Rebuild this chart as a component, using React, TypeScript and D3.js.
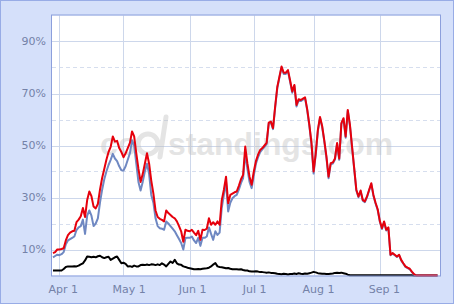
import React from "react";
import * as d3 from "d3";

const W = 454;
const H = 304;

// x = day index of the season (All-Star break days omitted)
const tickIndex = [3, 33, 64, 94, 122, 153];
const tickLabels = ["Apr 1", "May 1", "Jun 1", "Jul 1", "Aug 1", "Sep 1"];
const yTickSolid = [10, 30, 50, 70, 90];
const yTickDashed = [20, 40, 60, 80];

const redSeries = [
  8.6, 9, 10, 10, 10.2, 10.5, 13.5, 15.5, 16.5, 17,
  17.2, 20.5, 21.5, 22.8, 26, 22.5, 29, 32.3, 30.5, 26.5,
  25.8, 27.5, 33, 37.5, 41, 44.5, 47.5, 49.5, 53.5, 51.5,
  51.8, 49, 47.5, 45.5, 47, 49, 51, 55.4, 53.5, 47,
  41, 36, 39, 43, 47, 43, 36.5, 31.5, 25, 22.5,
  21.8, 21.4, 20.8, 25, 24, 23.3, 22.5, 22, 20.8, 19,
  17, 13, 17.6, 17.2, 17, 17.6, 16.5, 15.5, 17.2, 13.7,
  17.6, 17.5, 18, 22, 19.5, 20.5, 19.5, 20.8, 19.5, 29,
  33, 38, 27.8, 31, 31.5, 32, 32.3, 34.5, 37, 38.7,
  49.6, 43.2, 38, 34.9, 40, 44, 46.5, 48.3, 49, 50,
  51, 58.8, 59.2, 56.7, 65, 72.5, 76.5, 80.4, 78, 78,
  79, 75, 70.8, 73.3, 65.6, 67.8, 67.5, 68, 68.5, 64,
  58, 51, 40, 47, 56, 61, 57.5, 52, 45.8, 38,
  43.2, 43.5, 45, 51, 45, 58.6, 60.5, 53.5, 63.7, 58,
  49.6, 41.3, 33, 30.4, 32.7, 29.1, 28.5, 30.4, 33, 35.5,
  31, 28, 25.5, 21, 18.2, 20.8, 17.6, 18.5, 8, 8.6,
  8, 7.3, 8, 6, 4.7, 3.5, 3, 2.6, 1.5, 0.5,
  0, 0, 0, 0, 0, 0, 0, 0, 0, 0,
  0,
];

const blueSeries = [
  7, 7.5, 8, 7.8, 8.2, 9, 12, 13.5, 14, 14.5,
  15, 17.5, 18.5, 19, 21.5, 16, 23, 25, 23, 19,
  20, 22, 28, 33, 37, 40, 42.5, 44.5, 46.8, 45,
  44, 42, 40.5, 40.4, 42, 44.5, 47, 52, 50, 43,
  36, 32.7, 36, 40, 43, 39, 31, 28, 22, 19,
  18.2, 18, 17.6, 20.8, 20, 19, 18, 17, 15.5, 14,
  12.5, 10, 14.4, 14.5, 14.5, 15, 13.5, 12.5, 14.5, 11.4,
  14.5, 14.5, 15, 18.5, 16, 13.7, 17, 15.6, 16.5, 26,
  31, 36, 24.6, 28, 29.7, 30.5, 31, 33, 35.5, 37.5,
  47, 41, 36, 33.6, 38.5, 43, 45.5, 47.5, 48.5, 49.5,
  50.5, 58.4, 58.8, 56.3, 64.6, 72.1, 76.1, 80, 77.5, 77.5,
  78.6, 74.5, 70.3, 72.9, 65, 67.4, 67.1, 67.6, 68.1, 63.6,
  57.6, 50.5, 39.2, 46.6, 55.6, 60.6, 57.1, 51.6, 45.3, 37.4,
  42.8, 43.1, 44.6, 50.6, 44.5, 58.2, 60.1, 53, 63.3, 57.6,
  49.2, 41, 32.7, 30.1, 32.4, 28.8, 28.2, 30.1, 32.7, 35.2,
  30.7, 27.7, 25.2, 20.7, 17.9, 20.5, 17.3, 18.2, 7.8, 8.4,
  7.8, 7.1, 7.8, 5.8, 4.5, 3.3, 2.8, 2.4, 1.3, 0.4,
  0, 0, 0, 0, 0, 0, 0, 0, 0, 0,
  0,
];

const blackSeries = [
  1.9, 1.9, 1.9, 1.9, 1.9, 2.5, 3.3, 3.5, 3.5, 3.5,
  3.6, 3.5, 3.8, 4.3, 4.7, 5.8, 7.3, 7.2, 7, 7.2,
  7, 7.4, 7.6, 7, 6.7, 7, 7.2, 6, 6.5, 7,
  7.3, 6, 4.7, 4.9, 4.5, 3.5, 3.6, 3.3, 3.8, 3.5,
  3.5, 4, 4.1, 4, 4.2, 4, 4.3, 4.2, 4, 4.3,
  4, 4.7, 4.2, 3.5, 4.5, 5.4, 4.8, 6, 4.7, 4.2,
  4.1, 3.5, 3.3, 3, 2.8, 2.6, 2.4, 2.4, 2.5, 2.4,
  2.6, 2.7, 2.8, 3, 3.5, 4.2, 4.8, 3.5, 3.3, 3.2,
  3, 2.8, 2.9, 2.6, 2.4, 2.4, 2.4, 2.3, 2.4, 2.1,
  1.9, 1.9, 1.6, 1.5, 1.5, 1.6, 1.5, 1.3, 1.3, 1.2,
  1.1, 1.2, 1, 1, 0.9, 0.7, 0.6, 0.5, 0.7, 0.6,
  0.4, 0.6, 0.6, 0.8, 0.6, 0.9, 0.7, 0.6, 0.8, 0.7,
  0.9, 1.1, 1.4, 1.2, 0.9, 0.8, 0.7, 0.7, 0.6, 0.6,
  0.7, 0.8, 1, 1.1, 1, 1.1, 0.9, 0.7, 0.3, 0.1,
  0.1, 0.1, 0.1, 0.1, 0.1, 0.1, 0.1, 0.1, 0.1, 0.1,
  0.1, 0.1, 0.1, 0.1, 0.1, 0.1, 0.1, 0.1, 0.1, 0.1,
  0.1, 0.1, 0.1, 0.1, 0.1, 0.1, 0.1, 0.1, 0.1, 0,
  0, 0, 0, 0, 0, 0, 0, 0, 0, 0,
  0,
];

const PLOT = { left: 52, right: 440, top: 15.5, bottom: 275.5 };

export default function App() {
  const x = d3.scaleLinear().domain([0, 180]).range([53, 437.5]);
  const y = d3.scaleLinear().domain([0, 100]).range([275.5, 15.5]);
  const line = d3
    .line<number>()
    .x((_, i) => x(i))
    .y((d) => y(d))
    .curve(d3.curveLinear);

  const gridColor = "#cdd7eb";
  const labelColor = "#7482a8";
  const font = "'DejaVu Sans', Verdana, sans-serif";

  return (
    <svg
      width={W}
      height={H}
      style={{ position: "absolute", left: 0, top: 0 }}
      xmlns="http://www.w3.org/2000/svg"
    >
      <rect x={0} y={0} width={W} height={H} fill="#d5e0fa" />
      <rect x={0.5} y={0.5} width={W - 1} height={H - 1} fill="none" stroke="#98ace6" />
      <rect
        x={PLOT.left}
        y={PLOT.top}
        width={PLOT.right - PLOT.left}
        height={PLOT.bottom - PLOT.top}
        fill="#ffffff"
      />
      {yTickSolid.map((v) => (
        <line key={"s" + v} x1={PLOT.left} x2={PLOT.right} y1={Math.round(y(v)) + 0.5} y2={Math.round(y(v)) + 0.5} stroke={gridColor} strokeWidth={1} />
      ))}
      {yTickDashed.map((v) => (
        <line key={"d" + v} x1={PLOT.left} x2={PLOT.right} y1={Math.round(y(v)) + 0.5} y2={Math.round(y(v)) + 0.5} stroke="#d6deee" strokeWidth={1} strokeDasharray="4,3" />
      ))}
      {tickIndex.map((t) => (
        <line key={"v" + t} x1={Math.round(x(t)) + 0.5} x2={Math.round(x(t)) + 0.5} y1={PLOT.top} y2={PLOT.bottom} stroke={gridColor} strokeWidth={1} />
      ))}
      <g opacity={0.42}>
        <text
          x={100}
          y={155}
          fontFamily="'Liberation Sans', Arial, sans-serif"
          fontWeight="bold"
          fontSize={32}
          fill="#c0c0c0"
        >
          co
        </text>
        <circle cx={148} cy={144} r={10} fill="none" stroke="#c0c0c0" strokeWidth={5} />
        <text
          x={168}
          y={155}
          fontFamily="'Liberation Sans', Arial, sans-serif"
          fontWeight="bold"
          fontSize={32}
          fill="#c0c0c0"
          textLength={225}
          lengthAdjust="spacingAndGlyphs"
        >
          standings.com
        </text>
        <line x1={160} y1={157} x2={166} y2={117} stroke="#c0c0c0" strokeWidth={5} strokeLinecap="round" />
      </g>
      <path d={line(blackSeries) || ""} fill="none" stroke="#000000" strokeWidth={2} strokeLinejoin="round" />
      <path d={line(blueSeries) || ""} fill="none" stroke="#6f88c2" strokeWidth={2} strokeLinejoin="round" />
      <path d={line(redSeries) || ""} fill="none" stroke="#e6000c" strokeWidth={2} strokeLinejoin="round" />
      <rect
        x={PLOT.left - 0.5}
        y={PLOT.top - 0.5}
        width={PLOT.right - PLOT.left + 1}
        height={PLOT.bottom - PLOT.top + 1}
        fill="none"
        stroke="#8c9fdc"
        strokeWidth={1}
      />
      {yTickSolid.map((v) => (
        <text key={"yl" + v} x={46} y={y(v)} dy="0.35em" textAnchor="end" fontFamily={font} fontSize={11} fill={labelColor}>
          {v}%
        </text>
      ))}
      {tickIndex.map((t, i) => (
        <text key={"xl" + t} x={x(t) - 11} y={293} textAnchor="start" fontFamily={font} fontSize={11} fill={labelColor}>
          {tickLabels[i]}
        </text>
      ))}
    </svg>
  );
}
